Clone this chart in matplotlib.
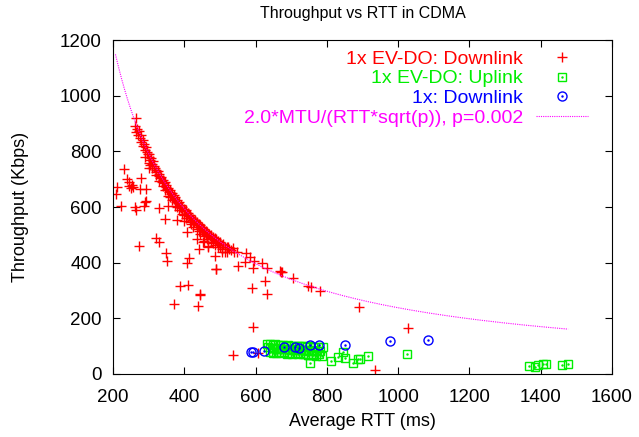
import numpy as np
import matplotlib
matplotlib.use("Agg")
import matplotlib.pyplot as plt

plt.rcParams['font.family'] = ['Liberation Sans', 'DejaVu Sans']

# 1x EV-DO Downlink (RTT ms, throughput Kbps)
down_x = [264, 262, 266, 268, 270, 272, 275, 278, 280, 283, 285, 288, 290, 292, 295, 297, 300, 302, 305, 308,
          310, 312, 315, 318, 320, 322, 325, 328, 330, 332, 335, 338, 340, 342, 345, 348, 350, 352, 355, 358,
          360, 362, 365, 368, 370, 372, 375, 378, 380, 382, 385, 388, 390, 392, 395, 398, 400, 402, 405, 408,
          410, 412, 415, 418, 420, 422, 425, 428, 430, 432, 435, 438, 440, 442, 445, 448, 450, 452, 455, 458,
          460, 462, 465, 468, 470, 472, 475, 478, 480, 482, 485, 488, 490, 492, 495, 498, 500, 505, 510, 515,
          520, 525, 530, 540,
          300, 310, 320, 330, 345, 355, 365, 375, 385, 395, 405, 415, 425, 435, 445, 455, 465, 475, 485, 495,
          505, 515, 290, 305, 340, 360, 380, 400, 420, 440, 460, 480, 500, 520,
          231, 301, 240, 246, 252, 256, 244, 250, 279, 210, 208, 276, 292, 292, 222, 262, 287, 330, 355, 264,
          291, 346, 381, 400, 322, 328, 272, 348, 351, 408, 414, 387, 410, 445, 371, 438, 489, 486, 409, 440,
          466, 435, 456, 488, 551, 594, 626, 589, 631, 594, 573, 584, 595, 617, 631, 570, 671, 668, 674, 704,
          748, 755, 781, 891, 1028, 935, 537, 608, 444, 453, 466, 522, 538, 547, 505]
down_y = [919, 893, 870, 882, 860, 872, 850, 858, 835, 842, 820, 828, 805, 815, 798, 790, 780, 792, 770, 778,
          755, 765, 748, 740, 735, 725, 730, 712, 718, 705, 708, 692, 698, 685, 690, 672, 678, 665, 668, 655,
          660, 648, 652, 638, 642, 630, 636, 620, 625, 615, 618, 602, 608, 598, 602, 590, 594, 585, 588, 572,
          578, 568, 572, 560, 565, 555, 558, 548, 552, 542, 546, 535, 540, 530, 534, 525, 528, 518, 522, 512,
          515, 508, 510, 500, 504, 496, 498, 490, 494, 485, 488, 480, 484, 475, 478, 470, 474, 465, 466, 458,
          456, 450, 446, 440,
          760, 740, 715, 695, 660, 640, 625, 605, 590, 575, 560, 545, 530, 520, 505, 495, 485, 475, 465, 455,
          448, 440, 780, 750, 675, 635, 600, 570, 540, 515, 498, 470, 455, 440,
          736, 740, 700, 690, 680, 672, 676, 668, 706, 673, 647, 664, 664, 622, 605, 600, 604, 596, 605, 590,
          619, 556, 554, 551, 490, 473, 460, 434, 405, 400, 417, 316, 320, 285, 252, 243, 377, 424, 512, 450,
          461, 484, 477, 376, 389, 380, 334, 308, 287, 168, 434, 422, 407, 400, 380, 401, 368, 370, 366, 346,
          316, 311, 299, 242, 166, 14, 68, 74, 287, 475, 458, 458, 454, 440, 440]

# 1x EV-DO Uplink
up_x = [632, 640, 648, 655, 662, 670, 678, 685, 692, 700, 708, 715, 722, 730, 738, 745, 752, 760, 768, 775,
        636, 645, 652, 660, 668, 675, 682, 690, 698, 705, 712, 720, 728, 735, 742, 750, 758, 765, 772, 780,
        640, 650, 658, 665, 672, 680, 688, 695, 702, 710, 718, 725, 732, 740, 748, 755, 762, 770, 778, 786,
        650, 748, 753, 790, 813, 832, 846, 851, 874, 888, 893, 916, 1026, 1367, 1385, 1393, 1407, 1414, 1459, 1477]
up_y = [108, 106, 104, 106, 105, 103, 104, 102, 103, 101, 102, 100, 101, 99, 100, 98, 99, 97, 96, 95,
        95, 92, 94, 90, 92, 89, 91, 88, 90, 87, 88, 86, 87, 85, 86, 84, 85, 83, 82, 84,
        80, 78, 76, 79, 74, 77, 72, 75, 73, 76, 71, 74, 70, 73, 68, 72, 69, 66, 71, 64,
        74, 68, 40, 98, 46, 62, 80, 56, 38, 52, 52, 64, 70, 30, 26, 32, 35, 35, 31, 36]

# 1x Downlink
cdma1x_x = [586, 594, 624, 680, 711, 723, 753, 779, 852, 977, 1083]
cdma1x_y = [79, 79, 83, 98, 98, 94, 104, 104, 103, 118, 122]

# Model curve parameters
MTU = 5320.0
P_LOSS = 0.002
curve_rtt_min, curve_rtt_max = 207, 1477

fig = plt.figure(figsize=(6.39, 4.37), dpi=100)
ax = fig.add_axes([0.1768, 0.1444, 0.7809, 0.7634])

rtt = np.linspace(curve_rtt_min, curve_rtt_max, 300)
model = 2.0 * MTU / (rtt * np.sqrt(P_LOSS))

h1, = ax.plot(down_x, down_y, linestyle='none', marker='+', color='#ff0000', markersize=7, markeredgewidth=1.0)
h2a, = ax.plot(up_x, up_y, linestyle='none', marker='s', markerfacecolor='none', markeredgecolor='#00ee00',
               markersize=6, markeredgewidth=1.0)
h2b, = ax.plot(up_x, up_y, linestyle='none', marker='.', color='#00ee00', markersize=1.5)
h3a, = ax.plot(cdma1x_x, cdma1x_y, linestyle='none', marker='o', markerfacecolor='none', markeredgecolor='#0000ff',
               markersize=6.5, markeredgewidth=1.0)
h3b, = ax.plot(cdma1x_x, cdma1x_y, linestyle='none', marker='.', color='#0000ff', markersize=1.5)
h4, = ax.plot(rtt, model, linestyle=(0, (1, 1)), color='#ff00ff', linewidth=0.8)

ax.set_xlim(200, 1600)
ax.set_ylim(0, 1200)
ax.set_xticks(np.arange(200, 1601, 200))
ax.set_yticks(np.arange(0, 1201, 200))
ax.tick_params(direction='in', top=True, right=True, labelsize=13.5, length=5)
ax.tick_params(axis='x', pad=11)
ax.tick_params(axis='y', pad=8)
ax.set_xlabel('Average RTT (ms)', fontsize=13, labelpad=5)
ax.set_ylabel('Throughput (Kbps)', fontsize=13, labelpad=22)
ax.set_title('Throughput vs RTT in CDMA', fontsize=11.5, pad=16)

leg = ax.legend([h1, (h2a, h2b), (h3a, h3b), h4],
                ['1x EV-DO: Downlink', '1x EV-DO: Uplink', '1x: Downlink', '2.0*MTU/(RTT*sqrt(p)), p=0.002'],
                loc='upper right', bbox_to_anchor=(0.952, 0.97), markerfirst=False, frameon=False,
                fontsize=14, handlelength=2.7, numpoints=1, labelspacing=0.1, borderaxespad=0.0,
                borderpad=0.0, handletextpad=0.65)
for text, c in zip(leg.get_texts(), ['#ff0000', '#00ee00', '#0000ff', '#ff00ff']):
    text.set_color(c)
    text.set_ha('right')

fig.savefig('out.png', dpi=100)
